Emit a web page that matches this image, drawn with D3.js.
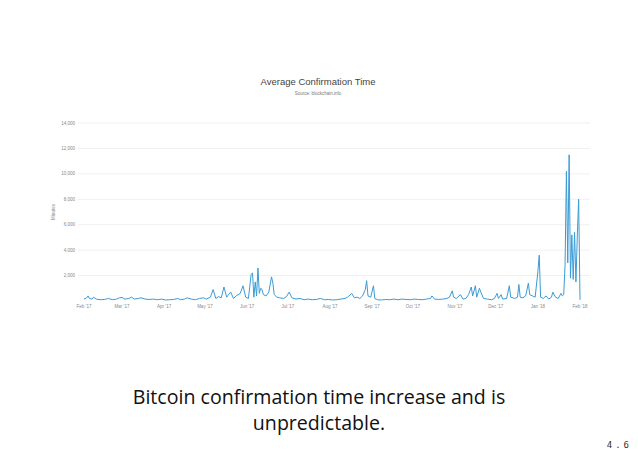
<!DOCTYPE html><html><head><meta charset="utf-8">
<script src="https://cdn.jsdelivr.net/npm/d3@7"></script>
<style>body{margin:0;background:#fff}</style></head><body>
<svg id="c" width="638" height="466"></svg>
<script>
const dayOffsets=[0,2,3,4,6,7,9,12,15,18,21,24,26,28,30,33,35,37,40,42,45,48,51,54,57,60,63,66,69,71,74,76,79,82,85,88,90,93,95,97,99,101,103,105,106,108,110,112,115,117,119,121,123,124,125,126,127,128,129,130,131,132,134,136,138,139,140,142,144,147,149,151,153,156,159,162,165,168,171,174,177,180,183,186,189,192,194,197,199,201,203,205,207,208,209,211,213,214,216,219,222,225,228,231,234,237,240,243,246,249,252,255,256,258,261,264,267,269,271,272,274,277,279,281,283,285,286,288,289,291,292,294,297,300,302,304,305,307,308,311,313,314,317,319,320,321,323,325,327,328,330,332,334,335,336,338,340,342,344,345,347,349,351,352,353,354,355,356,357,358,359,360,361,362,363,364,365];
const minutes=[150,250,400,200,150,300,150,100,120,200,100,150,250,280,150,200,300,150,200,250,150,120,150,100,150,80,100,120,200,100,150,250,150,100,200,250,150,300,900,200,350,250,1100,300,450,700,200,400,600,1200,300,200,2100,2200,300,1500,400,2600,600,1000,900,500,400,700,1900,1400,500,300,250,200,350,700,250,150,200,100,150,100,120,200,100,120,80,100,150,200,300,600,250,300,200,400,900,1600,400,300,1200,200,100,80,120,100,150,100,150,120,100,150,120,100,150,200,400,150,120,150,200,300,800,300,200,500,150,200,500,1100,400,1200,300,1000,700,200,150,100,200,600,200,500,150,200,1200,300,200,300,1300,300,250,400,1400,500,400,300,2300,3600,300,200,400,150,300,700,300,200,600,400,500,2800,10200,3000,11500,1800,5200,1700,5400,1500,5100,8000,100];
const yTicks=[2000,4000,6000,8000,10000,12000,14000];
const xTickLabels=["Feb '17","Mar '17","Apr '17","May '17","Jun '17","Jul '17","Aug '17","Sep '17","Oct '17","Nov '17","Dec '17","Jan '18","Feb '18"];
const start=new Date(2017,1,1);
const data=dayOffsets.map((d,i)=>({date:d3.timeDay.offset(start,d),v:minutes[i]}));
const svg=d3.select("#c");
const x=d3.scaleTime().domain([start,new Date(2018,1,1)]).range([84,580]);
const y=d3.scaleLinear().domain([0,14000]).range([301,123]);
const f="Liberation Sans, Arial, sans-serif";
svg.append("text").attr("x",318).attr("y",85).attr("text-anchor","middle").attr("font-family",f).attr("font-size",9.5).attr("fill","#444").text("Average Confirmation Time");
svg.append("text").attr("x",318).attr("y",95).attr("text-anchor","middle").attr("font-family",f).attr("font-size",4.5).attr("fill","#777").text("Source: blockchain.info");
const g=svg.append("g");
g.selectAll("line.grid").data(yTicks).join("line").attr("x1",78).attr("x2",590).attr("y1",d=>y(d)).attr("y2",d=>y(d)).attr("stroke","#e8e8e8").attr("stroke-width",0.7);
g.selectAll("text.yl").data(yTicks).join("text").attr("x",75).attr("y",d=>y(d)+1.5).attr("text-anchor","end").attr("font-family",f).attr("font-size",4.5).attr("fill","#888").text(d=>d3.format(",")(d));
svg.append("text").attr("transform","translate(55,212) rotate(-90)").attr("text-anchor","middle").attr("font-family",f).attr("font-size",4.5).attr("fill","#888").text("Minutes");
const months=d3.timeMonth.range(start,new Date(2018,1,2));
svg.selectAll("text.xl").data(months).join("text").attr("x",d=>x(d)).attr("y",308).attr("text-anchor","middle").attr("font-family",f).attr("font-size",4.5).attr("fill","#888").text((d,i)=>xTickLabels[i]);
svg.append("path").datum(data).attr("fill","none").attr("stroke","#3b9bd6").attr("stroke-width",1).attr("stroke-linejoin","round")
 .attr("d",d3.line().x(d=>x(d.date)).y(d=>y(d.v)));
const cf="Open Sans, Noto Sans, sans-serif";
svg.append("text").attr("x",319).attr("y",404).attr("text-anchor","middle").attr("font-family",cf).attr("font-size",19.6).attr("fill","#111").text("Bitcoin confirmation time increase and is");
svg.append("text").attr("x",319).attr("y",430).attr("text-anchor","middle").attr("font-family",cf).attr("font-size",19.6).attr("fill","#111").text("unpredictable.");
svg.append("text").attr("x",632).attr("y",448).attr("text-anchor","end").attr("font-family","DejaVu Sans Mono, monospace").attr("font-size",9).attr("letter-spacing",3).attr("fill","#333").text("4.6");
</script></body></html>
